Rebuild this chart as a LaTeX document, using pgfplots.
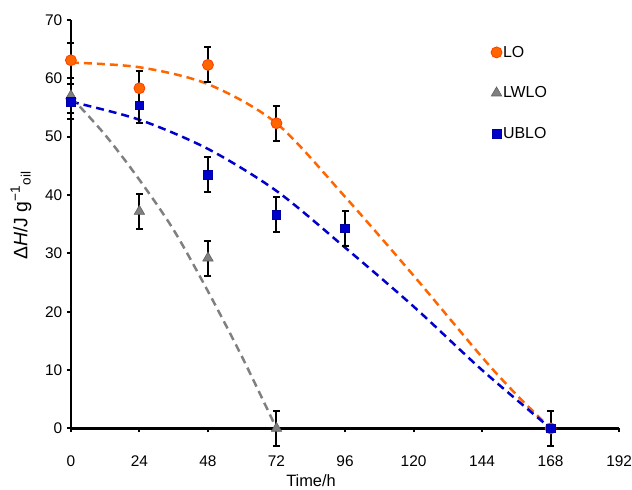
\documentclass[border=0pt]{standalone}
\usepackage{pgfplots}
\pgfplotsset{compat=1.18}
\usepackage{fontspec}
\setmainfont{Liberation Sans}
\definecolor{orng}{RGB}{255,102,0}
\definecolor{orngedge}{RGB}{255,60,0}
\definecolor{blu}{RGB}{0,0,204}
\definecolor{bluedge}{RGB}{0,0,160}
\definecolor{gry}{RGB}{128,128,128}
\definecolor{gryd}{RGB}{95,95,95}
\begin{document}
\begin{tikzpicture}
\begin{axis}[
  scale only axis, width=549bp, height=409bp,
  xmin=0, xmax=192, ymin=0, ymax=70,
  xtick={0,24,...,192}, ytick={0,10,...,70},
  axis lines=left, axis line style={line width=2.5bp,-},
  tick align=outside, major tick length=4bp,
  tick style={black, line width=2bp},
  ticklabel style={font=\fontsize{15.5}{18}\selectfont, inner sep=0pt},
  /pgf/number format/assume math mode=true,
  xticklabel style={yshift=-23bp},
  yticklabel style={xshift=-4.5bp},
  xlabel={Time/h},
  ylabel={Δ\textit{H}/J g\textsuperscript{−1}\textsubscript{oil}},
  xlabel style={font=\fontsize{16.5}{19}\selectfont, inner sep=0pt, at={(axis description cs:0.438,-0.127)}, anchor=center},
  ylabel style={font=\fontsize{19.5}{22}\selectfont, inner sep=0pt, at={(axis description cs:-0.091,0.521)}, anchor=center, rotate=0},
  clip=false,
  legend style={draw=none, fill=none, at={(0.766,0.939)}, anchor=north west,
    row sep=26bp, font=\fontsize{16}{19}\selectfont, inner sep=0pt,
    nodes={inner sep=1bp}},
  legend cell align=left,
  legend image code/.code={\draw[mark repeat=2,mark phase=2] plot coordinates {(0cm,0cm)(0.16cm,0cm)(0.42cm,0cm)};},
]
% trend curves
\addplot[orng, line width=2.5bp, dash pattern=on 8bp off 5bp, smooth, forget plot] coordinates {
 (0,62.7) (24,61.9) (48,59.0) (72,52.3) (96,39.7) (120,26.2) (144,12.2) (156,5.8) (168,0)};
\addplot[blu, line width=2.5bp, dash pattern=on 8bp off 5bp, smooth, forget plot] coordinates {
 (0,56.0) (24,52.9) (48,47.9) (72,40.7) (96,31.0) (120,20.9) (144,10.0) (168,0)};
\addplot[gry, line width=2.5bp, dash pattern=on 8bp off 5bp, smooth, forget plot] coordinates {
 (0,56.8) (12,50.3) (24,42.6) (36,34.0) (48,23.5) (60,12.2) (72,0)};
% data with error bars
\addplot[only marks, mark=*, mark size=5.5bp, mark options={fill=orng, draw=orngedge, line width=0.8bp},
  error bars/.cd, y dir=both, y explicit,
  error bar style={draw=black, line width=2bp},
  error mark options={rotate=90, mark size=3.5bp, line width=2bp, draw=black}]
  table[x=x, y=y, y error=e] {
x y e
0 63.1 3
24 58.3 3
48 62.3 3
72 52.3 3
168 0 3
};
\addlegendentry{LO}
\addplot[only marks, mark=triangle*, mark size=6bp, mark options={fill=gry, draw=gryd, line width=0.6bp},
  error bars/.cd, y dir=both, y explicit,
  error bar style={draw=black, line width=2bp},
  error mark options={rotate=90, mark size=3.5bp, line width=2bp, draw=black}]
  table[x=x, y=y, y error=e] {
x y e
0 57.0 3
24 37.2 3
48 29.2 3
72 0 3
};
\addlegendentry{LWLO}
\addplot[only marks, mark=square*, mark size=4.3bp, mark options={fill=blu, draw=bluedge, line width=0.6bp},
  error bars/.cd, y dir=both, y explicit,
  error bar style={draw=black, line width=2bp},
  error mark options={rotate=90, mark size=3.5bp, line width=2bp, draw=black}]
  table[x=x, y=y, y error=e] {
x y e
0 56.0 3
24 55.4 3
48 43.5 3
72 36.6 3
96 34.3 3
168 0 3
};
\addlegendentry{UBLO}
\end{axis}
\path (current axis.south west) ++(-71bp,-61bp) rectangle ++(632bp,490bp);
\end{tikzpicture}
\end{document}
